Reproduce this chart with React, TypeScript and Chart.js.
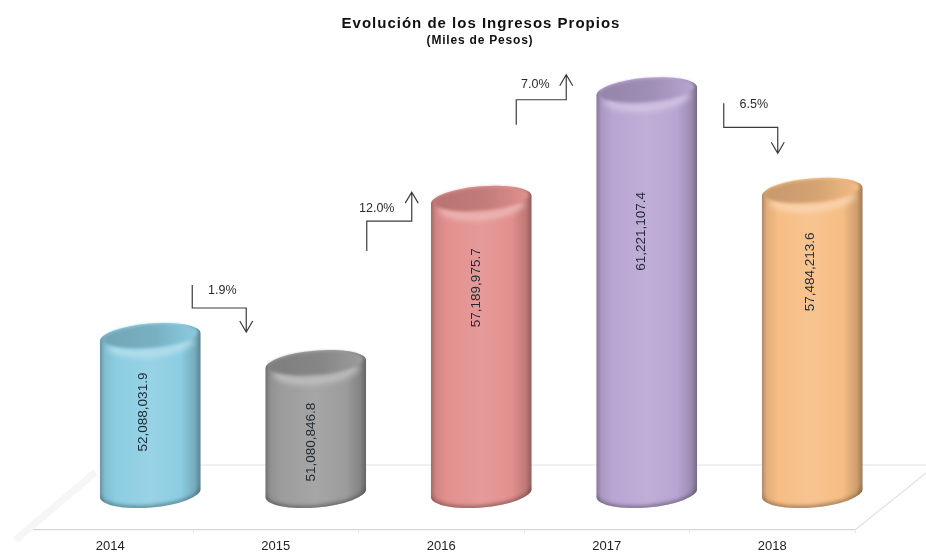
import React, { useEffect, useRef } from "react";
import { Chart, registerables } from "chart.js";

Chart.register(...registerables);

const years = ["2014", "2015", "2016", "2017", "2018"];
const ingresos = [52088031.9, 51080846.8, 57189975.7, 61221107.4, 57484213.6];
const valueLabels = ["52,088,031.9", "51,080,846.8", "57,189,975.7", "61,221,107.4", "57,484,213.6"];
const barColors = ["#8ccde2", "#9c9c9c", "#e2908e", "#b9a5d3", "#f6bd84"];
const changeLabels = ["1.9%", "12.0%", "7.0%", "6.5%"];
const changeDirections = ["down", "up", "up", "down"];
const chartTitle = "Evolución de los Ingresos Propios";
const chartSubtitle = "(Miles de Pesos)";

const FONT = '"Liberation Sans", Arial, sans-serif';
const DEPTH_X = 40;
const DEPTH_Y = 37;
const ELLIPSE_RY = 13.5;
const TILT = -0.085;
const AXIS_MIN = 46290000;
const AXIS_MAX = 63760000;

// Layout of the change call-outs, relative to the bar they start from.
const calloutLayout = [
  { xs: [82, 82, 136, 136], ys: [-89, -66, -66, -42], tx: 112, ty: -83 },
  { xs: [91, 91, 136, 136], ys: [-150, -180, -180, -209], tx: 101, ty: -193 },
  { xs: [75, 75, 125, 125], ys: [-112, -137, -137, -162], tx: 94, ty: -152 },
  { xs: [117, 117, 171, 171], ys: [-25, -1, -1, 25], tx: 147, ty: -24 },
];
const labelLayout = [
  { dx: -7, dy: 75 },
  { dx: -4, dy: 78 },
  { dx: -5, dy: 88 },
  { dx: -5, dy: 140 },
  { dx: -2, dy: 80 },
];

function shade(hex: string, amount: number) {
  const n = parseInt(hex.slice(1), 16);
  const mix = (c: number) =>
    Math.round(amount < 0 ? c * (1 + amount) : c + (255 - c) * amount);
  return `rgb(${mix((n >> 16) & 255)},${mix((n >> 8) & 255)},${mix(n & 255)})`;
}

function drawCylinder(ctx: CanvasRenderingContext2D, bar: any, color: string) {
  const cx = bar.x + DEPTH_X;
  const rx = bar.width / 2;
  const ty = bar.y - DEPTH_Y;
  const by = bar.base - DEPTH_Y;
  const left = cx - rx;
  const right = cx + rx;

  const bodyPath = () => {
    ctx.beginPath();
    ctx.ellipse(cx, by, rx, ELLIPSE_RY + 1, TILT, 0, Math.PI);
    ctx.ellipse(cx, ty, rx, ELLIPSE_RY, TILT, Math.PI, Math.PI * 2);
    ctx.closePath();
  };

  ctx.save();
  const g = ctx.createLinearGradient(left, 0, right, 0);
  g.addColorStop(0, shade(color, -0.28));
  g.addColorStop(0.05, shade(color, -0.08));
  g.addColorStop(0.16, color);
  g.addColorStop(0.5, shade(color, 0.1));
  g.addColorStop(0.8, color);
  g.addColorStop(0.94, shade(color, -0.16));
  g.addColorStop(1, shade(color, -0.36));
  bodyPath();
  ctx.fillStyle = g;
  ctx.fill();

  ctx.save();
  bodyPath();
  ctx.clip();
  ctx.filter = "blur(2px)";
  // dark rim at the base
  ctx.beginPath();
  ctx.ellipse(cx, by, rx, ELLIPSE_RY + 1, TILT, 0, Math.PI);
  ctx.strokeStyle = shade(color, -0.5);
  ctx.lineWidth = 3;
  ctx.stroke();
  // pale shoulder under the cap
  ctx.filter = "blur(3px)";
  ctx.beginPath();
  ctx.ellipse(cx, ty + 2, rx - 8, ELLIPSE_RY + 1, TILT, 0.25, Math.PI - 0.25);
  ctx.strokeStyle = shade(color, 0.42);
  ctx.lineWidth = 6;
  ctx.stroke();
  ctx.restore();

  // cap
  const cap = ctx.createLinearGradient(left, 0, right, 0);
  cap.addColorStop(0, shade(color, -0.2));
  cap.addColorStop(0.55, shade(color, -0.14));
  cap.addColorStop(1, shade(color, 0.02));
  ctx.save();
  ctx.filter = "blur(1.5px)";
  ctx.beginPath();
  ctx.ellipse(cx, ty - 1, rx - 3, ELLIPSE_RY - 2, TILT, 0, Math.PI * 2);
  ctx.fillStyle = cap;
  ctx.fill();
  ctx.restore();
  ctx.restore();
}

const cylinderPlugin = {
  id: "cylinders",
  beforeDatasetDraw(chart: any, args: any) {
    const ctx = chart.ctx;
    const meta = args.meta;
    const colors = chart.data.datasets[args.index].backgroundColor;
    ctx.save();
    meta.data.forEach((bar: any, i: number) => {
      drawCylinder(ctx, bar.getProps(["x", "y", "base", "width"], true), colors[i]);
    });
    ctx.restore();
    return false;
  },
};

const floorPlugin = {
  id: "floor",
  beforeDatasetsDraw(chart: any) {
    const { ctx, chartArea: a, width } = chart;
    const backY = a.bottom - 65;
    ctx.save();
    ctx.strokeStyle = "#e2e2e2";
    ctx.lineWidth = 1.2;
    ctx.beginPath();
    ctx.moveTo(a.left + 72, backY);
    ctx.lineTo(width, backY);
    ctx.moveTo(a.right, a.bottom);
    ctx.lineTo(width, a.bottom - 57);
    ctx.stroke();
    ctx.strokeStyle = "#f6f6f6";
    ctx.lineWidth = 7;
    ctx.beginPath();
    ctx.moveTo(a.left - 12, a.bottom + 10);
    ctx.lineTo(a.left + 68, a.bottom - 58);
    ctx.stroke();
    ctx.restore();
  },
};

const overlayPlugin = {
  id: "overlay",
  afterDatasetsDraw(chart: any) {
    const ctx = chart.ctx;
    const bars = chart.getDatasetMeta(0).data;
    ctx.save();

    // value labels, rotated inside each bar
    bars.forEach((bar: any, i: number) => {
      const p = bar.getProps(["x", "y"], true);
      ctx.save();
      ctx.translate(p.x + DEPTH_X + labelLayout[i].dx, p.y - DEPTH_Y + labelLayout[i].dy);
      ctx.rotate(-Math.PI / 2);
      ctx.font = `13.5px ${FONT}`;
      ctx.fillStyle = "#1f2a33";
      ctx.textAlign = "center";
      ctx.textBaseline = "middle";
      ctx.fillText(valueLabels[i], 0, 0);
      ctx.restore();
    });

    // change call-outs
    changeLabels.forEach((label, i) => {
      const p = bars[i].getProps(["x", "y"], true);
      const l = calloutLayout[i];
      const xs = l.xs.map((d) => p.x + d);
      const ys = l.ys.map((d) => p.y + d);
      const sign = changeDirections[i] === "down" ? -1 : 1;
      ctx.strokeStyle = "#3c3c3c";
      ctx.lineWidth = 1.2;
      ctx.beginPath();
      ctx.moveTo(xs[0], ys[0]);
      for (let k = 1; k < 4; k++) ctx.lineTo(xs[k], ys[k]);
      ctx.moveTo(xs[3] - 6.5, ys[3] + sign * 11);
      ctx.lineTo(xs[3], ys[3]);
      ctx.lineTo(xs[3] + 6.5, ys[3] + sign * 11);
      ctx.stroke();
      ctx.font = `12.5px ${FONT}`;
      ctx.fillStyle = "#2b2b2b";
      ctx.textAlign = "center";
      ctx.textBaseline = "middle";
      ctx.fillText(label, p.x + l.tx, p.y + l.ty);
    });

    // headings
    ctx.fillStyle = "#111111";
    ctx.textAlign = "center";
    ctx.textBaseline = "middle";
    (ctx as any).letterSpacing = "1px";
    ctx.font = `bold 15px ${FONT}`;
    ctx.fillText(chartTitle, 481, 24);
    (ctx as any).letterSpacing = "0.8px";
    ctx.font = `bold 12px ${FONT}`;
    ctx.fillText(chartSubtitle, 480, 41);
    (ctx as any).letterSpacing = "0px";
    ctx.restore();
  },
};

export default function App() {
  const ref = useRef<HTMLCanvasElement | null>(null);

  useEffect(() => {
    document.body.style.margin = "0";
    document.body.style.background = "#ffffff";
    const chart = new Chart(ref.current as HTMLCanvasElement, {
      type: "bar",
      data: {
        labels: years,
        datasets: [
          {
            label: "Ingresos Propios",
            data: ingresos,
            base: AXIS_MIN,
            backgroundColor: barColors,
            barPercentage: 0.61,
            categoryPercentage: 1,
          },
        ],
      },
      options: {
        animation: false,
        responsive: false,
        layout: { padding: { left: 27.5, right: 71, top: 60, bottom: 0 } },
        plugins: {
          legend: { display: false },
          title: { display: false },
          tooltip: { enabled: false },
        },
        scales: {
          x: {
            afterFit: (s: any) => {
              s.height = 25;
            },
            border: { color: "#d6d6d6", width: 1.2 },
            grid: { drawOnChartArea: false, drawTicks: true, tickLength: 3, color: "#e6e6e6" },
            ticks: {
              color: "#222222",
              padding: 6,
              maxRotation: 0,
              font: { family: FONT, size: 13 },
            },
          },
          y: { display: false, min: AXIS_MIN, max: AXIS_MAX },
        },
      } as any,
      plugins: [floorPlugin, cylinderPlugin, overlayPlugin],
    });
    return () => chart.destroy();
  }, []);

  return <canvas ref={ref} width={926} height={555} style={{ display: "block" }} />;
}
